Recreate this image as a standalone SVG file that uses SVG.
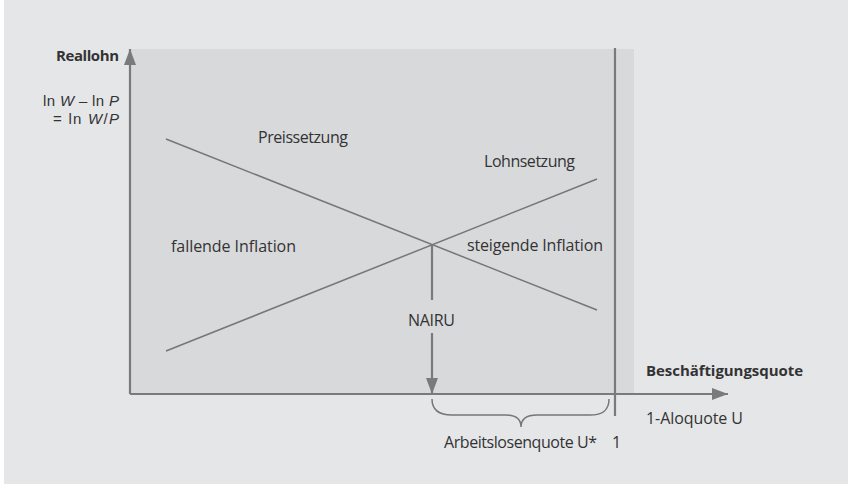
<svg xmlns="http://www.w3.org/2000/svg" width="848" height="485" viewBox="0 0 848 485">
<style>
  text { font-family: "Open Sans", "Liberation Sans", sans-serif; fill: #333333; font-size: 16px; }
  .b { font-weight: bold; font-size: 15px; }
  .yl { font-family: "Liberation Sans", Arial, sans-serif; font-size: 15px; }
  .ax { stroke: #7a7a7a; stroke-width: 2.2; fill: none; }
  .crv { stroke: #767676; stroke-width: 1.5; fill: none; }
</style>
<defs>
  <marker id="ah" markerUnits="userSpaceOnUse" markerWidth="18" markerHeight="14" refX="16" refY="6" orient="auto">
    <polygon points="0,0 16,6 0,12" fill="#7a7a7a"/>
  </marker>
</defs>
<rect x="4" y="0" width="844" height="484" fill="#e5e6e8"/>
<rect x="130" y="49" width="504" height="345" fill="#d8d9db"/>
<g id="connectors">
  <line class="ax" x1="130" y1="394" x2="130" y2="49" marker-end="url(#ah)"/>
  <line class="ax" x1="130" y1="394" x2="728" y2="394" marker-end="url(#ah)"/>
  <line class="ax" x1="615" y1="48" x2="615" y2="416"/>
  <line class="crv" x1="166" y1="139" x2="597" y2="310"/>
  <line class="crv" x1="166" y1="351" x2="597" y2="179"/>
  <line class="ax" x1="432" y1="245" x2="432" y2="300"/>
  <line class="ax" x1="432" y1="333" x2="432" y2="394" marker-end="url(#ah)"/>
  <path class="crv" d="M432,399 C432,411 440,415 452,415 L505,415 C515,415 521,419 521,427 C521,419 527,415 537,415 L590,415 C602,415 609,411 609,399"/>
</g>
<g id="ylabel">
  <text class="b" x="119" y="61" text-anchor="end" textLength="63">Reallohn</text>
  <text class="yl" x="119" y="106" text-anchor="end" textLength="76">ln <tspan font-style="italic">W</tspan> – ln <tspan font-style="italic">P</tspan></text>
  <text class="yl" x="119" y="124" text-anchor="end" textLength="66">= ln <tspan font-style="italic">W</tspan>/<tspan font-style="italic">P</tspan></text>
</g>
<g id="labels">
  <text x="258" y="143" textLength="90">Preissetzung</text>
  <text x="484" y="167" textLength="91">Lohnsetzung</text>
  <text x="171" y="252" textLength="125">fallende Inflation</text>
  <text x="467" y="251" textLength="136">steigende Inflation</text>
  <text x="408" y="326" textLength="47">NAIRU</text>
  <text class="b" x="646" y="376" textLength="157">Beschäftigungsquote</text>
  <text x="646" y="424" textLength="97">1-Aloquote U</text>
  <text x="444" y="448" textLength="153">Arbeitslosenquote U*</text>
  <text x="612" y="448">1</text>
</g>
</svg>
